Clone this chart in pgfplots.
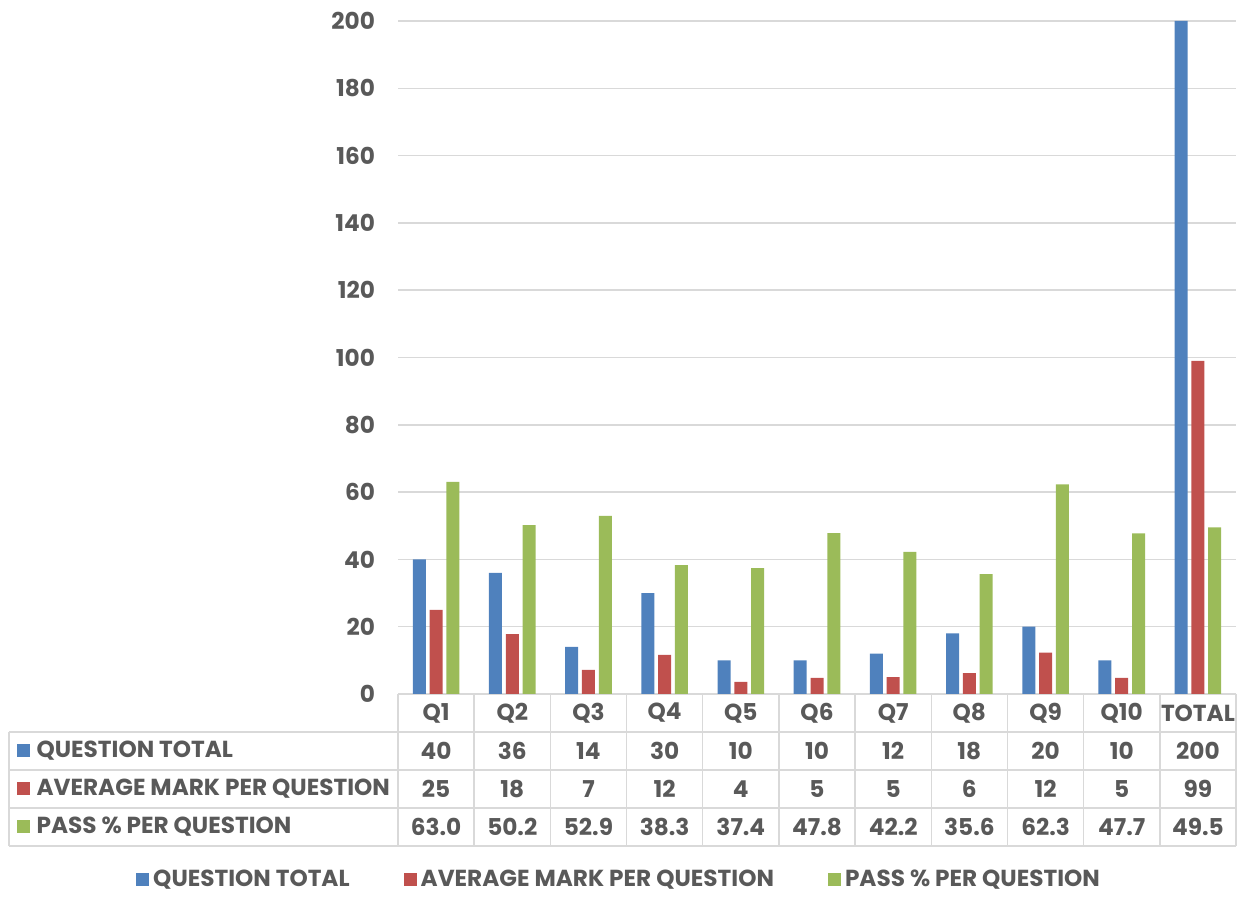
\documentclass[border=0pt]{standalone}
\usepackage{pgfplots}
\pgfplotsset{compat=1.18}
\usepackage{pgfplotstable}
\usepackage{fontspec}
\setmainfont{Poppins}
\definecolor{qblue}{HTML}{4F81BD}
\definecolor{qred}{HTML}{C0504D}
\definecolor{qgreen}{HTML}{9BBB59}
\definecolor{txt}{HTML}{595959}
\definecolor{grd}{HTML}{D9D9D9}
\newcommand\cf{\bfseries\fontsize{11.6}{14}\selectfont}
\pgfplotstableread{
x qt am pp qtl aml ppl
0 40 25.0 63.0 40 25 63.0
1 36 17.8 50.2 36 18 50.2
2 14 7.2 52.9 14 7 52.9
3 30 11.6 38.3 30 12 38.3
4 10 3.6 37.4 10 4 37.4
5 10 4.8 47.8 10 5 47.8
6 12 5.0 42.2 12 5 42.2
7 18 6.2 35.6 18 6 35.6
8 20 12.3 62.3 20 12 62.3
9 10 4.8 47.7 10 5 47.7
10 200 99.0 49.5 200 99 49.5
}\datatable
\pgfplotsset{
  mybar/.style={ybar, bar width=6.5pt, draw=none, fill=#1,
    legend image code/.code={\fill[#1] (0pt,-3.25pt) rectangle (6.5pt,3.25pt);}},
  mytext/.style={forget plot, only marks, mark=*, mark size=0pt,
    mark options={draw=none,fill=none},
    nodes near coords, point meta=explicit symbolic,
    nodes near coords align=center,
    every node near coord/.append style={font=\cf, text=txt, inner sep=0pt}},
}
\begin{document}
\begin{tikzpicture}
\begin{axis}[
  scale only axis, width=419pt, height=336.5pt,
  xmin=-0.5, xmax=10.5, ymin=0, ymax=200,
  ytick={0,20,...,200},
  xtick={0,...,10},
  xticklabels={Q1,Q2,Q3,Q4,Q5,Q6,Q7,Q8,Q9,Q10,TOTAL},
  axis line style={draw=none},
  tick style={draw=none},
  ymajorgrids, grid style={grd, line width=0.75pt},
  clip=false,
  ticklabel style={font=\cf, text=txt},
  /pgf/number format/assume math mode=true,
  yticklabel style={xshift=-8pt},
  xticklabel style={anchor=center, yshift=-9.5pt},
  legend style={at={(0.265,-0.276)}, anchor=center, draw=none, fill=none,
    legend columns=3, font=\cf, text=txt,
    /tikz/every even column/.append style={column sep=25pt}},
]
\addplot[mybar=qblue, bar shift=-8.4pt] table[x=x,y=qt]{\datatable};
\addlegendentry{QUESTION TOTAL}
\addplot[mybar=qred, bar shift=0pt] table[x=x,y=am]{\datatable};
\addlegendentry{AVERAGE MARK PER QUESTION}
\addplot[mybar=qgreen, bar shift=8.4pt] table[x=x,y=pp]{\datatable};
\addlegendentry{PASS \% PER QUESTION}

\addplot[mytext] table[x=x, y expr=-16.94, meta=qtl]{\datatable};
\addplot[mytext] table[x=x, y expr=-28.23, meta=aml]{\datatable};
\addplot[mytext] table[x=x, y expr=-39.52, meta=ppl]{\datatable};

% table grid
\draw[grd, line width=0.75pt]
  (axis cs:-5.605,-11.29) -- (axis cs:10.5,-11.29)
  (axis cs:-5.605,-22.59) -- (axis cs:10.5,-22.59)
  (axis cs:-5.605,-33.88) -- (axis cs:10.5,-33.88)
  (axis cs:-5.605,-45.17) -- (axis cs:10.5,-45.17)
  (axis cs:-5.605,-11.29) -- (axis cs:-5.605,-45.17)
  (axis cs:-0.5,0) -- (axis cs:-0.5,-45.17)
  (axis cs:0.5,0) -- (axis cs:0.5,-45.17)
  (axis cs:1.5,0) -- (axis cs:1.5,-45.17)
  (axis cs:2.5,0) -- (axis cs:2.5,-45.17)
  (axis cs:3.5,0) -- (axis cs:3.5,-45.17)
  (axis cs:4.5,0) -- (axis cs:4.5,-45.17)
  (axis cs:5.5,0) -- (axis cs:5.5,-45.17)
  (axis cs:6.5,0) -- (axis cs:6.5,-45.17)
  (axis cs:7.5,0) -- (axis cs:7.5,-45.17)
  (axis cs:8.5,0) -- (axis cs:8.5,-45.17)
  (axis cs:9.5,0) -- (axis cs:9.5,-45.17)
  (axis cs:10.5,0) -- (axis cs:10.5,-45.17);
% row headers
\fill[qblue] (axis cs:-5.415,-16.94) ++(-3.25pt,-3.25pt) rectangle ++(6.5pt,6.5pt);
\fill[qred] (axis cs:-5.415,-28.23) ++(-3.25pt,-3.25pt) rectangle ++(6.5pt,6.5pt);
\fill[qgreen] (axis cs:-5.415,-39.52) ++(-3.25pt,-3.25pt) rectangle ++(6.5pt,6.5pt);
\node[anchor=west, font=\cf, text=txt, inner sep=0pt] at (axis cs:-5.25,-16.94) {QUESTION TOTAL};
\node[anchor=west, font=\cf, text=txt, inner sep=0pt] at (axis cs:-5.25,-28.23) {AVERAGE MARK PER QUESTION};
\node[anchor=west, font=\cf, text=txt, inner sep=0pt] at (axis cs:-5.25,-39.52) {PASS \% PER QUESTION};
\coordinate (BL) at (rel axis cs:-0.47494,-0.29569);
\coordinate (TR) at (rel axis cs:1.01193,1.03120);
\end{axis}
\path (BL) rectangle (TR);
\end{tikzpicture}
\end{document}
